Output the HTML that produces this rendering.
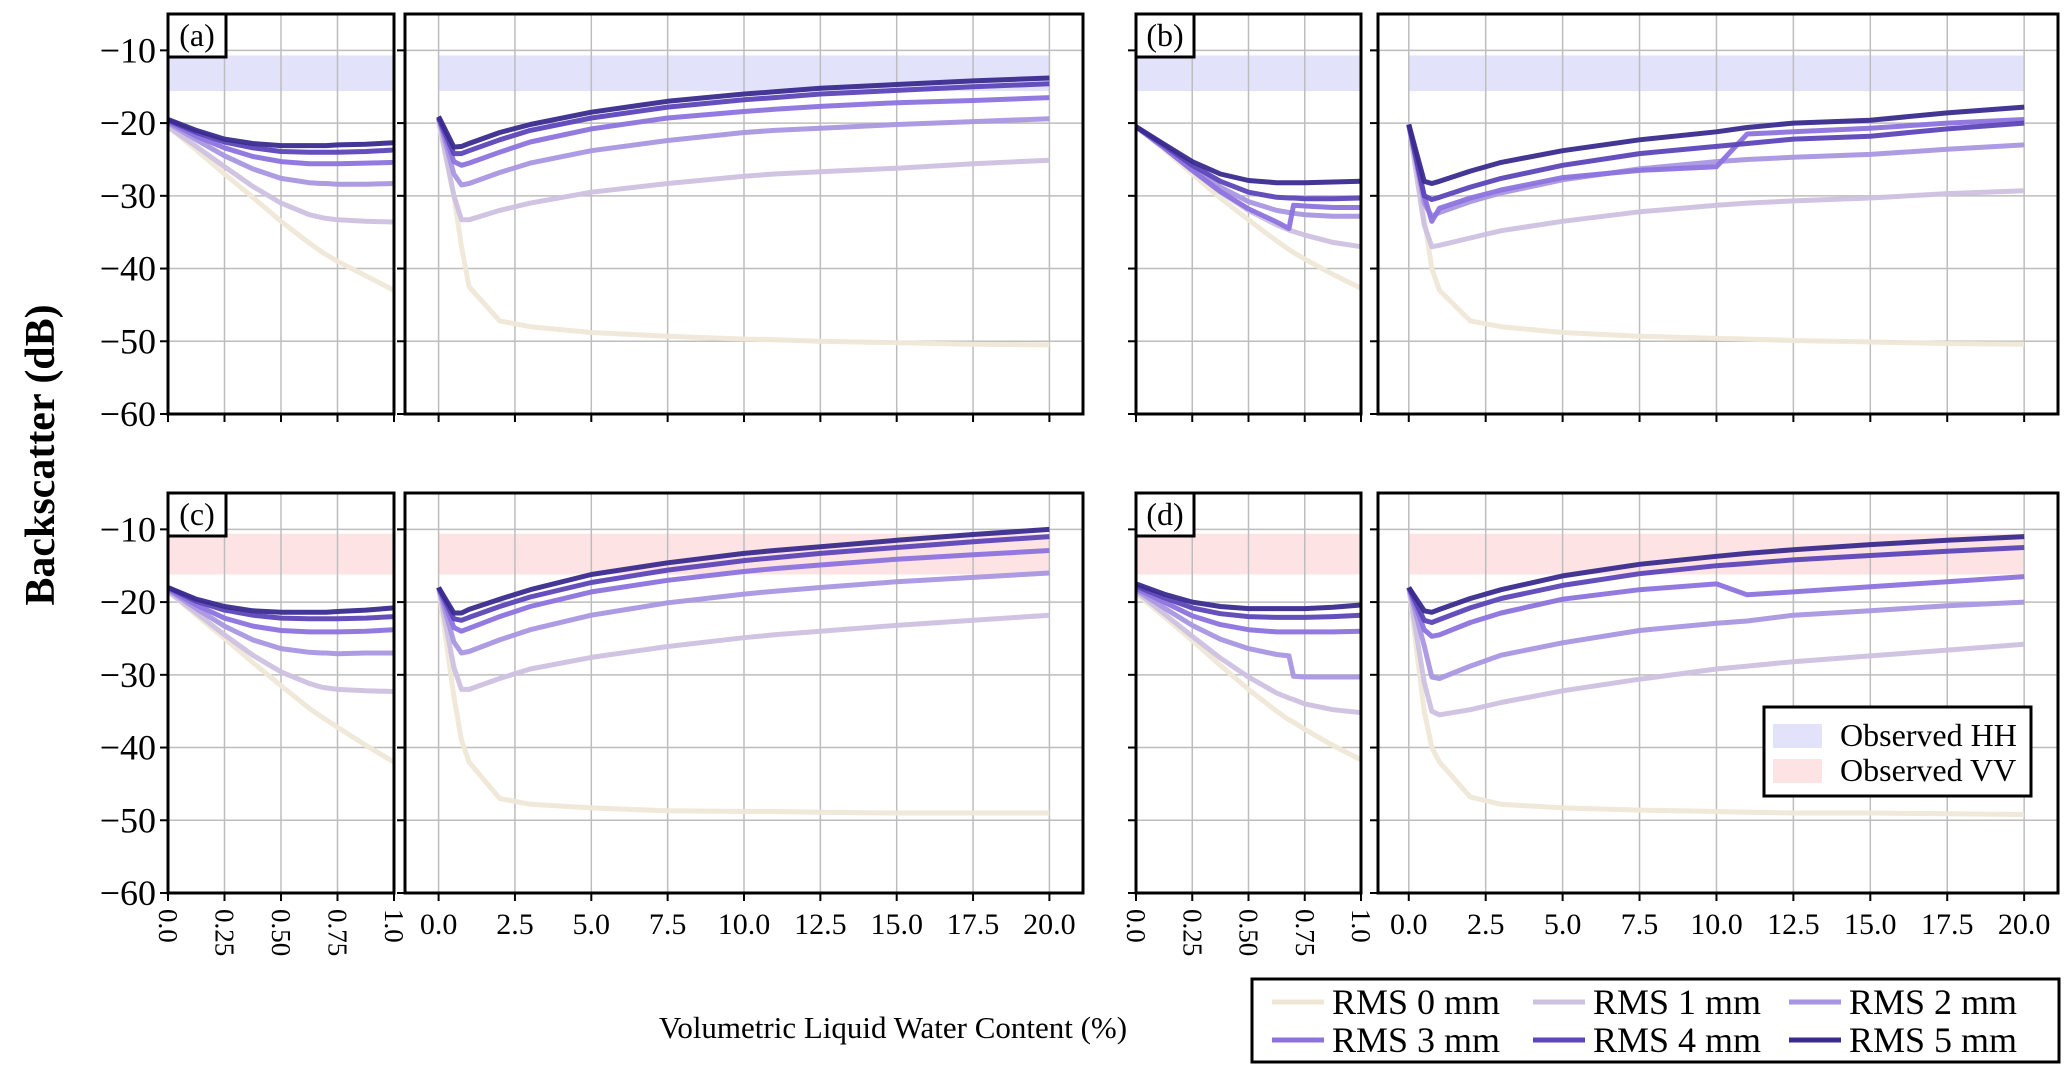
<!DOCTYPE html>
<html><head><meta charset="utf-8"><style>
html,body{margin:0;padding:0;background:#fff}
svg{display:block;font-family:"Liberation Serif",serif}
</style></head><body>
<svg id="fig" width="2067" height="1072" viewBox="0 0 2067 1072" xmlns="http://www.w3.org/2000/svg"></svg>
<script>
// ---- data ----
const seriesNames = ["RMS 0 mm","RMS 1 mm","RMS 2 mm","RMS 3 mm","RMS 4 mm","RMS 5 mm"];
const xSmall = [0,0.125,0.25,0.375,0.5,0.625,0.68,0.7,0.75,0.875,1];
const xLarge = [0,0.5,0.75,1,2,3,5,7.5,10,11,12.5,15,17.5,20];
const yTicks = [-60,-50,-40,-30,-20,-10];
const xTicksSmall = [0,0.25,0.5,0.75,1];
const xTickLabelsSmall = ["0.0","0.25","0.50","0.75","1.0"];
const xTicksLarge = [0,2.5,5,7.5,10,12.5,15,17.5,20];
const xTickLabelsLarge = ["0.0","2.5","5.0","7.5","10.0","12.5","15.0","17.5","20.0"];
const bandHH = [-15.6,-10.7];
const bandVV = [-16.2,-10.6];

const aSmall = [
 [-20.5,-23.7,-27,-30.2,-33.5,-36.5,-37.7,-38.1,-39,-41,-43],
 [-20.5,-23.2,-26,-28.7,-31,-32.6,-33,-33.1,-33.3,-33.5,-33.6],
 [-20,-22.3,-24.5,-26.3,-27.6,-28.2,-28.3,-28.3,-28.4,-28.4,-28.3],
 [-19.8,-21.8,-23.4,-24.6,-25.3,-25.6,-25.6,-25.6,-25.6,-25.5,-25.4],
 [-19.6,-21.3,-22.6,-23.4,-23.9,-24,-24,-24,-24,-23.9,-23.7],
 [-19.5,-21,-22.2,-22.8,-23.1,-23.1,-23.1,-23.1,-23,-22.9,-22.7]];
const aLarge = [
 [-20,-30,-37,-42.5,-47.2,-48,-48.8,-49.3,-49.7,-49.8,-50,-50.2,-50.4,-50.5],
 [-19.5,-30,-33.3,-33.3,-32,-31,-29.5,-28.3,-27.3,-27,-26.7,-26.2,-25.6,-25.1],
 [-19.3,-27,-28.5,-28.3,-26.8,-25.5,-23.8,-22.4,-21.3,-21,-20.7,-20.2,-19.8,-19.4],
 [-19.3,-25.3,-25.8,-25.5,-24,-22.6,-20.8,-19.3,-18.4,-18.1,-17.7,-17.2,-16.9,-16.5],
 [-19.3,-24.2,-24.2,-23.8,-22.3,-21,-19.3,-17.8,-16.8,-16.5,-16,-15.5,-15,-14.6],
 [-19.1,-23.3,-23.2,-22.8,-21.3,-20.2,-18.5,-17,-16,-15.7,-15.2,-14.7,-14.2,-13.8]];
const bSmall = [
 [-20.5,-23.6,-27,-30.3,-33.3,-36.2,-37.4,-37.8,-38.7,-40.8,-42.7],
 [-20.5,-23.4,-26.5,-29.5,-32,-34,-34.7,-34.9,-35.4,-36.4,-37],
 [-20.5,-23.3,-26.2,-28.8,-30.8,-32,-32.3,-32.4,-32.6,-32.8,-32.8],
 [-20.5,-23.4,-26.5,-29.4,-31.8,-33.6,-34.5,-31.3,-31.4,-31.6,-31.6],
 [-20.5,-23.1,-25.8,-28,-29.5,-30.2,-30.3,-30.3,-30.4,-30.4,-30.3],
 [-20.5,-22.9,-25.3,-27,-27.9,-28.2,-28.2,-28.2,-28.2,-28.1,-28]];
const bLarge = [
 [-20.2,-33,-40,-43,-47.2,-48,-48.8,-49.3,-49.6,-49.7,-49.9,-50.1,-50.3,-50.4],
 [-20.2,-34,-37,-36.8,-35.8,-34.8,-33.5,-32.2,-31.3,-31,-30.7,-30.3,-29.7,-29.3],
 [-20.2,-31,-32.8,-32.3,-30.8,-29.6,-27.8,-26.3,-25.3,-25,-24.7,-24.3,-23.6,-23],
 [-20.2,-30,-33.5,-31.7,-30.3,-29.2,-27.5,-26.5,-26,-21.5,-21.2,-20.7,-20,-19.5],
 [-20.2,-30,-30.5,-30.2,-28.8,-27.6,-25.8,-24.2,-23.2,-22.8,-22.2,-21.8,-20.8,-20],
 [-20.2,-28,-28.3,-28,-26.6,-25.4,-23.8,-22.3,-21.2,-20.6,-20,-19.6,-18.6,-17.8]];
const cSmall = [
 [-18.5,-21.8,-25,-28.3,-31.5,-34.6,-35.8,-36.2,-37.2,-39.7,-42],
 [-18.5,-21.5,-24.5,-27.3,-29.6,-31.2,-31.7,-31.8,-32,-32.2,-32.3],
 [-18.3,-20.9,-23.3,-25.2,-26.4,-26.9,-27,-27,-27.1,-27,-27],
 [-18.2,-20.4,-22.2,-23.3,-23.9,-24.1,-24.1,-24.1,-24.1,-24,-23.8],
 [-18,-19.9,-21.1,-21.8,-22.2,-22.3,-22.3,-22.3,-22.3,-22.2,-22],
 [-18,-19.6,-20.6,-21.2,-21.4,-21.4,-21.4,-21.4,-21.3,-21.1,-20.8]];
const cLarge = [
 [-18,-33,-39,-42,-47,-47.8,-48.3,-48.7,-48.8,-48.8,-48.9,-49,-49,-49],
 [-18,-29,-32,-32,-30.5,-29.2,-27.6,-26.1,-24.9,-24.5,-24,-23.2,-22.5,-21.8],
 [-18,-25.5,-27,-26.8,-25.2,-23.8,-21.8,-20.1,-18.9,-18.5,-18,-17.2,-16.6,-16],
 [-18,-23.5,-24,-23.6,-22,-20.6,-18.6,-17,-15.8,-15.4,-14.9,-14.1,-13.5,-12.9],
 [-18,-22.3,-22.5,-22.1,-20.6,-19.3,-17.3,-15.6,-14.3,-13.9,-13.3,-12.5,-11.7,-11],
 [-18,-21.5,-21.5,-21,-19.6,-18.3,-16.2,-14.6,-13.3,-12.9,-12.4,-11.5,-10.7,-10]];
const dSmall = [
 [-18.8,-22,-25.3,-28.7,-32,-35,-36.2,-36.5,-37.5,-39.7,-41.7],
 [-18.5,-21.6,-24.7,-27.7,-30.3,-32.5,-33.2,-33.4,-34,-34.8,-35.2],
 [-18.3,-20.8,-23.2,-25.1,-26.4,-27.2,-27.4,-30.2,-30.3,-30.3,-30.3],
 [-18.1,-20,-21.9,-23.1,-23.8,-24.1,-24.1,-24.1,-24.1,-24.1,-24],
 [-17.8,-19.4,-20.8,-21.6,-22,-22.1,-22.1,-22.1,-22.1,-22,-21.8],
 [-17.5,-18.9,-20,-20.6,-20.9,-20.9,-20.9,-20.9,-20.9,-20.7,-20.4]];
const dLarge = [
 [-18,-35,-40,-42,-46.8,-47.8,-48.3,-48.6,-48.8,-48.9,-49,-49,-49.1,-49.2],
 [-18,-31,-35,-35.5,-34.8,-33.8,-32.2,-30.6,-29.2,-28.8,-28.2,-27.4,-26.6,-25.8],
 [-18,-26,-30.3,-30.5,-28.8,-27.3,-25.6,-23.9,-22.9,-22.6,-21.8,-21.2,-20.5,-20],
 [-18,-23.8,-24.7,-24.5,-22.8,-21.5,-19.6,-18.3,-17.5,-19,-18.6,-17.9,-17.2,-16.5],
 [-18,-22.5,-22.8,-22.4,-20.8,-19.5,-17.7,-16.1,-15,-14.7,-14.2,-13.6,-13,-12.5],
 [-18,-21.2,-21.4,-21,-19.5,-18.3,-16.4,-14.8,-13.7,-13.3,-12.8,-12.1,-11.5,-11]];

// ---- styles / layout ----
const colors = ["#efe7d6","#cdc1e0","#a996e2","#8d73de","#5d46b9","#3a2b8e"];
const NS = "http://www.w3.org/2000/svg";
const svg = document.getElementById("fig");
function mk(tag, attrs, parent){ const e=document.createElementNS(NS,tag); for(const k in attrs) e.setAttribute(k,attrs[k]); (parent||svg).appendChild(e); return e; }

const rows = [{top:14,bot:414},{top:493,bot:893}];
const cols = [
 {small:[168,394], large:[405,1083], lx:[-1.1,21.1]},
 {small:[1136,1361], large:[1378,2058], lx:[-1.0,21.1]}];
const ylim = [-60,-5];

function drawPanel(id, row, col, smallData, largeData, band, bandColor, showYLabels, showXLabels){
  const r = rows[row], c = cols[col];
  const ys = v => r.bot - (v - ylim[0])/(ylim[1]-ylim[0])*(r.bot-r.top);
  const specs = [
    {rng:c.small, xl:[0,1], xs:xSmall, data:smallData, ticks:xTicksSmall, labels:xTickLabelsSmall, kind:"small"},
    {rng:c.large, xl:c.lx, xs:xLarge, data:largeData, ticks:xTicksLarge, labels:xTickLabelsLarge, kind:"large"}];
  specs.forEach(sp=>{
    const [L,R] = sp.rng;
    const xsf = v => L + (v - sp.xl[0])/(sp.xl[1]-sp.xl[0])*(R-L);
    const g = mk("g",{});
    
    
    const xb0 = xsf(0), xb1 = xsf(sp.kind==="small"?1:20);
    const band_ = mk("rect",{x:xb0,y:ys(band[1]),width:xb1-xb0,height:ys(band[0])-ys(band[1]),fill:bandColor},g);
    
    
    yTicks.forEach(t=>{ mk("line",{x1:L,x2:R,y1:ys(t),y2:ys(t),stroke:"#bdbdbd","stroke-width":1.5},g); });
    sp.ticks.forEach(t=>{ mk("line",{x1:xsf(t),x2:xsf(t),y1:r.top,y2:r.bot,stroke:"#bdbdbd","stroke-width":1.5},g); });
    sp.data.forEach((arr,i)=>{
      const d = arr.map((v,j)=>(j?"L":"M")+xsf(sp.xs[j]).toFixed(1)+","+ys(v).toFixed(1)).join(" ");
      const p = mk("path",{d:d,fill:"none",stroke:colors[i],"stroke-width":5,"stroke-linejoin":"round","stroke-opacity":0.95},g);
      
      
    });
    mk("rect",{x:L,y:r.top,width:R-L,height:r.bot-r.top,fill:"none",stroke:"#000","stroke-width":3},g);
    yTicks.forEach(t=>{ mk("line",{x1:L-8,x2:L,y1:ys(t),y2:ys(t),stroke:"#000","stroke-width":2},g); });
    sp.ticks.forEach(t=>{ mk("line",{x1:xsf(t),x2:xsf(t),y1:r.bot,y2:r.bot+8,stroke:"#000","stroke-width":2},g); });
    if(sp.kind==="small" && showYLabels){
      yTicks.forEach(t=>{
        const tx = mk("text",{x:L-12,y:ys(t)+12,"font-size":36,"text-anchor":"end"},g);
        tx.textContent = "\u2212"+Math.abs(t);
        
        
      });
    }
    if(showXLabels){
      sp.ticks.forEach((t,k)=>{
        let tx;
        if(sp.kind==="small"){
          tx = mk("text",{x:0,y:0,"font-size":27,"text-anchor":"start",transform:"translate("+(xsf(t)-9)+","+(r.bot+16)+") rotate(90)"},g);
        } else {
          tx = mk("text",{x:xsf(t),y:r.bot+41,"font-size":30,"text-anchor":"middle"},g);
        }
        tx.textContent = sp.labels[k];
        
        
      });
    }
  });
  const L = c.small[0];
  const lb = mk("rect",{x:L,y:r.top,width:58,height:43,fill:"#fff",stroke:"#000","stroke-width":3});
  
  
  const lt = mk("text",{x:L+29,y:r.top+32,"font-size":32,"text-anchor":"middle"});
  lt.textContent = "("+id+")";
  
  
}

const HH = "#e2e2fb", VV = "#fde3e3";
drawPanel("a",0,0,aSmall,aLarge,bandHH,HH,true,false);
drawPanel("b",0,1,bSmall,bLarge,bandHH,HH,false,false);
drawPanel("c",1,0,cSmall,cLarge,bandVV,VV,true,true);
drawPanel("d",1,1,dSmall,dLarge,bandVV,VV,false,true);

const yl = mk("text",{x:0,y:0,"font-size":42,"font-weight":"bold","text-anchor":"middle",transform:"translate(54,455) rotate(-90)"});
yl.textContent = "Backscatter (dB)";


const xl = mk("text",{x:893,y:1038,"font-size":31,"text-anchor":"middle"});
xl.textContent = "Volumetric Liquid Water Content (%)";



const og = mk("g",{});


mk("rect",{x:1764,y:707,width:267,height:89,fill:"#fff",stroke:"#000","stroke-width":3},og);
[["Observed HH",HH,736],["Observed VV",VV,771]].forEach(e=>{
  const pr = mk("rect",{x:1773,y:e[2]-12,width:49,height:24,fill:e[1]},og);
  
  
  const t = mk("text",{x:1840,y:e[2]+10,"font-size":32},og);
  t.textContent = e[0];
  
  
});

const lg = mk("g",{});


mk("rect",{x:1252,y:979,width:807,height:83,fill:"#fff",stroke:"#000","stroke-width":3},lg);
const colX = [1272,1533,1789], rowY = [1002,1040];
seriesNames.forEach((n,i)=>{
  const cx = colX[i%3], cy = rowY[Math.floor(i/3)];
  mk("line",{x1:cx,x2:cx+52,y1:cy,y2:cy,stroke:colors[i],"stroke-width":5},lg);
  const t = mk("text",{x:cx+60,y:cy+12,"font-size":36},lg);
  t.textContent = n;
  
  
});
</script>
</body></html>
